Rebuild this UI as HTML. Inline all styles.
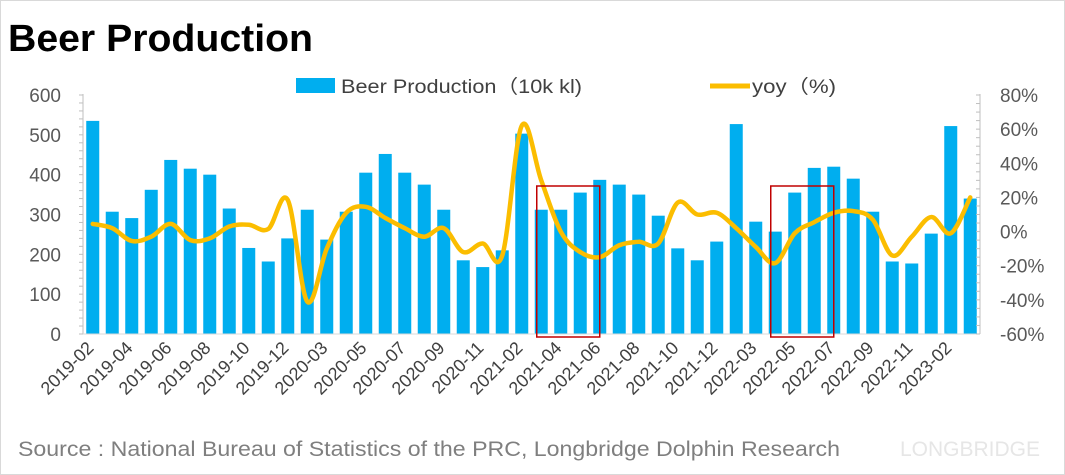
<!DOCTYPE html>
<html><head><meta charset="utf-8"><style>
body{margin:0;background:#fff;}
#wrap{position:relative;width:1065px;height:475px;overflow:hidden;background:#fff;font-family:"Liberation Sans","Noto Sans CJK SC",sans-serif;}
</style></head><body>
<div id="wrap">
<svg id="chart" width="1065" height="475" xmlns="http://www.w3.org/2000/svg">
<rect x="0.5" y="0.5" width="1064" height="474" fill="#fff" stroke="#d9d9d9"/>
<text x="8" y="51" font-size="38" font-weight="bold" fill="#000" textLength="305" lengthAdjust="spacingAndGlyphs">Beer Production</text>
<g>
<rect x="296" y="78" width="39" height="15" fill="#00aeef"/>
<text x="341" y="93" font-size="19" fill="#404040" textLength="241" lengthAdjust="spacingAndGlyphs">Beer Production（10k kl)</text>
<line x1="710" y1="86" x2="750" y2="86" stroke="#fbbd00" stroke-width="5"/>
<text x="752" y="93" font-size="19" fill="#404040" textLength="84" lengthAdjust="spacingAndGlyphs">yoy（%)</text>
</g>
<g id="plot"></g>
<text x="18" y="456" font-size="21" fill="#7f7f7f" textLength="822" lengthAdjust="spacingAndGlyphs">Source : National Bureau of Statistics of the PRC, Longbridge Dolphin Research</text>
<text x="900" y="456" font-size="21" fill="#e6e6e6">LONGBRIDGE</text>
</svg>
</div>
<script>
const categories=["2019-02","2019-03","2019-04","2019-05","2019-06","2019-07","2019-08","2019-09","2019-10","2019-11","2019-12",
"2020-02","2020-03","2020-04","2020-05","2020-06","2020-07","2020-08","2020-09","2020-10","2020-11","2020-12",
"2021-02","2021-03","2021-04","2021-05","2021-06","2021-07","2021-08","2021-09","2021-10","2021-11","2021-12",
"2022-02","2022-03","2022-04","2022-05","2022-06","2022-07","2022-08","2022-09","2022-10","2022-11","2022-12",
"2023-02","2023-03"];
const production=[535,307,291,362,437,415,400,315,216,182,240,312,237,307,405,452,405,375,312,185,168,210,503,312,312,355,387,375,350,297,215,185,232,527,282,257,355,417,420,390,307,182,177,252,522,340];
const yoy=[4.5,2,-5.5,-3,4.5,-5,-4,3,4,1.5,18.5,-41,-10,11,14.5,8,2,-3,2,-12,-7,-14,62,30,0,-12,-15,-8,-6,-7,17,10,11,2,-9,-18.5,-1,5.5,11,12,7,-14,-3,8.5,-1,20];
const leftTicks=[0,100,200,300,400,500,600];
const rightTicks=[-60,-40,-20,0,20,40,60,80];
const highlightRanges=[["2021-03","2021-05"],["2022-04","2022-06"]];

const NS="http://www.w3.org/2000/svg";
const plot=document.getElementById("plot");
const X0=83,X1=980,Y0=334,Y1=95;
const band=(X1-X0)/categories.length;
const xc=i=>X0+band*(i+0.5);
const yL=v=>Y0-(v-0)/(600-0)*(Y0-Y1);
const yR=v=>Y0-(v+60)/140*(Y0-Y1);
function mk(tag,attrs){const e=document.createElementNS(NS,tag);for(const k in attrs)e.setAttribute(k,attrs[k]);plot.appendChild(e);return e;}

production.forEach((v,i)=>{
 const r=mk("rect",{x:xc(i)-6.5,y:yL(v),width:13,height:Y0-yL(v),fill:"#00aeef"});
 
 
});
let a=mk("line",{x1:X0,y1:Y1-1,x2:X0,y2:Y0,stroke:"#bfbfbf"});


a=mk("line",{x1:X1,y1:Y1-1,x2:X1,y2:Y0,stroke:"#bfbfbf"});


a=mk("line",{x1:X0,y1:Y0,x2:X1,y2:Y0,stroke:"#d9d9d9"});


for(let v=0;v<=600;v+=20){const t=mk("line",{x1:X0-4,y1:yL(v),x2:X0,y2:yL(v),stroke:"#bfbfbf"});
 
 }
for(let v=-60;v<=80;v+=5){const t=mk("line",{x1:X1-4,y1:yR(v),x2:X1,y2:yR(v),stroke:"#bfbfbf"});
 
 }
leftTicks.forEach(v=>{const t=mk("text",{x:61,y:yL(v)+7,"text-anchor":"end","font-size":"19",fill:"#595959"});t.textContent=v;
 
 });
rightTicks.forEach(v=>{const t=mk("text",{x:1000,y:yR(v)+7,"font-size":"19",fill:"#595959"});t.textContent=v+"%";
 
 });
categories.forEach((c,i)=>{if(i%2)return;
 const x=xc(i)+2,y=Y0+15;
 const t=mk("text",{x:x,y:y,"text-anchor":"end","font-size":"18",fill:"#404040",transform:`rotate(-45 ${x} ${y})`});t.textContent=c;
 
 });
const pts=yoy.map((v,i)=>[xc(i),yR(v)]);
let d="M"+pts[0][0]+","+pts[0][1];
for(let i=0;i<pts.length-1;i++){
 const p0=pts[Math.max(0,i-1)],p1=pts[i],p2=pts[i+1],p3=pts[Math.min(pts.length-1,i+2)];
 const t=0.17;
 d+=` C${p1[0]+(p2[0]-p0[0])*t},${p1[1]+(p2[1]-p0[1])*t} ${p2[0]-(p3[0]-p1[0])*t},${p2[1]-(p3[1]-p1[1])*t} ${p2[0]},${p2[1]}`;
}
const ln=mk("path",{d:d,fill:"none",stroke:"#fbbd00","stroke-width":"4.5","stroke-linejoin":"round","stroke-linecap":"round"});


highlightRanges.forEach(r=>{
 const i0=categories.indexOf(r[0]),i1=categories.indexOf(r[1]);
 const x0=xc(i0)-4.5,x1=xc(i1+1);
 const b=mk("rect",{x:x0,y:186,width:x1-x0,height:151,fill:"none",stroke:"#c00000","stroke-width":"1.5"});
 
 
});
</script>
</body></html>
